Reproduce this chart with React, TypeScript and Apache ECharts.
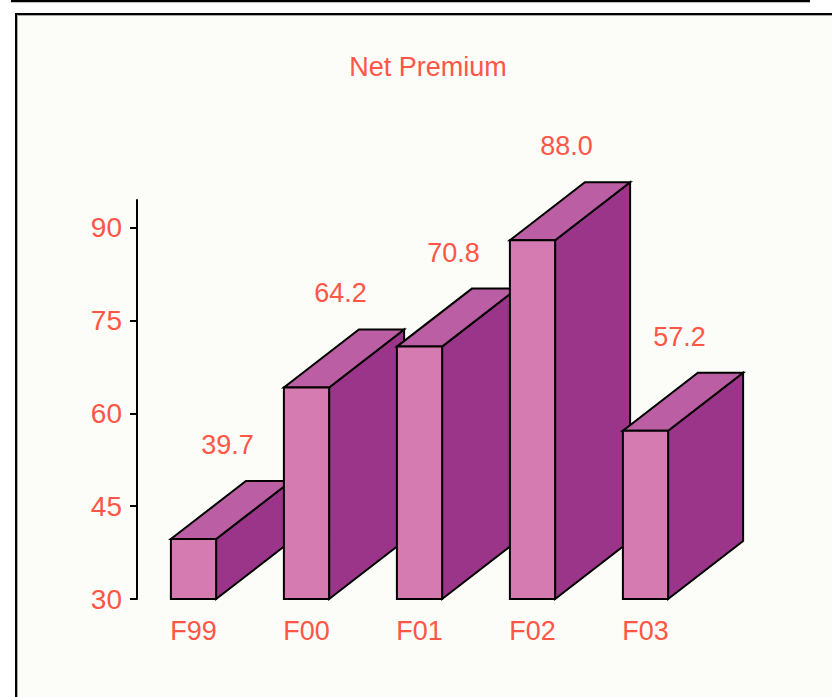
import React, { useEffect, useRef } from "react";
import * as echarts from "echarts";

const title = "Net Premium";
const categories = ["F99", "F00", "F01", "F02", "F03"];
const values = [39.7, 64.2, 70.8, 88.0, 57.2];
const yTicks = [30, 45, 60, 75, 90];

const TEXT = "#ff5646";
const FONT = "'Liberation Sans', Arial, sans-serif";
const FRONT = "#d57bb1";
const TOP = "#bb5ea3";
const SIDE = "#9a3589";
const DX = 75;
const DY = -58;

export default function App() {
  const ref = useRef<HTMLDivElement>(null);
  useEffect(() => {
    const chart = echarts.init(ref.current!, null, { renderer: "svg" });
    const yMin = yTicks[0];
    chart.setOption({
      animation: false,
      backgroundColor: "#ffffff",
      graphic: [
        { type: "rect", silent: true, z: -10, shape: { x: 15, y: 13, width: 830, height: 700 }, style: { fill: "#fcfcf9" } },
        { type: "line", silent: true, shape: { x1: 11, y1: 1, x2: 810, y2: 1 }, style: { stroke: "#000", lineWidth: 2.4 } },
        { type: "line", silent: true, shape: { x1: 15, y1: 14, x2: 832, y2: 14 }, style: { stroke: "#000", lineWidth: 2 } },
        { type: "line", silent: true, shape: { x1: 17, y1: 15.5, x2: 832, y2: 15.5 }, style: { stroke: "#a8aaa6", lineWidth: 1 } },
        { type: "line", silent: true, shape: { x1: 16, y1: 13, x2: 16, y2: 697 }, style: { stroke: "#000", lineWidth: 2 } },
        { type: "line", silent: true, shape: { x1: 17.5, y1: 15, x2: 17.5, y2: 697 }, style: { stroke: "#a8aaa6", lineWidth: 1 } },
        {
          type: "text",
          x: 428,
          y: 67,
          style: { text: title, fill: TEXT, font: `27px ${FONT}`, textAlign: "center", textVerticalAlign: "middle" },
        },
      ],
      grid: { left: 137, top: 200, width: 565, height: 399 },
      xAxis: {
        type: "category",
        data: categories,
        axisLine: { show: false },
        axisTick: { show: false },
        axisLabel: { color: TEXT, fontSize: 27, fontFamily: FONT, margin: 18 },
        splitLine: { show: false },
      },
      yAxis: {
        type: "value",
        min: yMin,
        max: 94.5,
        interval: 15,
        axisLine: { show: true, lineStyle: { color: "#000", width: 2 } },
        axisTick: { show: true, length: 7, lineStyle: { color: "#000", width: 2 }, customValues: yTicks },
        axisLabel: { color: TEXT, fontSize: 28, fontFamily: FONT, margin: 15, customValues: yTicks },
        splitLine: { show: false },
      },
      series: [
        {
          type: "custom",
          clip: false,
          data: values.map((v, i) => [i, v]),
          encode: { x: 0, y: 1 },
          renderItem: (params: any, api: any) => {
            const i = api.value(0);
            const v = api.value(1);
            const t = api.coord([i, v]);
            const b = api.coord([i, yMin]);
            const w = api.size([1, 0])[0] * 0.4;
            const xl = t[0] - w / 2;
            const xr = t[0] + w / 2;
            const yt = t[1];
            const yb = b[1];
            const edge = { stroke: "#000", lineWidth: 2, lineJoin: "miter" };
            return {
              type: "group",
              children: [
                {
                  type: "polygon",
                  shape: { points: [[xr, yt], [xr + DX, yt + DY], [xr + DX, yb + DY], [xr, yb]] },
                  style: { fill: SIDE, ...edge },
                },
                {
                  type: "polygon",
                  shape: { points: [[xl, yt], [xr, yt], [xr + DX, yt + DY], [xl + DX, yt + DY]] },
                  style: { fill: TOP, ...edge },
                },
                {
                  type: "rect",
                  shape: { x: xl, y: yt, width: w, height: yb - yt },
                  style: { fill: FRONT, ...edge },
                },
                {
                  type: "text",
                  x: t[0] + 34,
                  y: yt + DY - 36,
                  style: {
                    text: v.toFixed(1),
                    fill: TEXT,
                    font: `27px ${FONT}`,
                    textAlign: "center",
                    textVerticalAlign: "middle",
                  },
                },
              ],
            };
          },
        },
      ],
    });
    return () => chart.dispose();
  }, []);
  return (
    <div
      ref={ref}
      style={{ position: "fixed", left: 0, top: 0, width: 832, height: 697 }}
    />
  );
}
